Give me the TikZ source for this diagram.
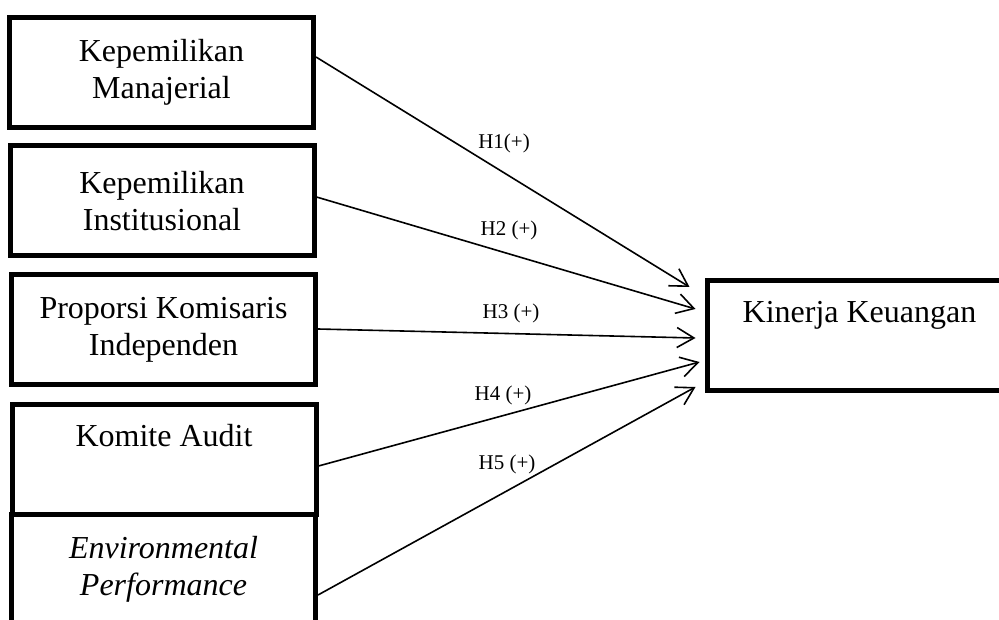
\documentclass[tikz,border=0pt]{standalone}
\usepackage{fontspec}
\setmainfont{Liberation Serif}
\usetikzlibrary{arrows.meta}
\begin{document}
\begin{tikzpicture}[x=1pt,y=1pt,
  varbox/.style={draw=black,line width=5pt,minimum width=304pt,minimum height=110pt,
    inner sep=0pt,align=center,font=\fontsize{32}{37}\selectfont},
  hyp/.style={line width=1.6pt,-{Straight Barb[length=17pt,width=20pt,line width=1.6pt]}},
  hlab/.style={font=\fontsize{21}{24}\selectfont,inner sep=0pt}]
\clip (0,0) rectangle (999,619);
\fill[white] (0,0) rectangle (999,619);
\node[varbox] (b1) at (161.5,546.5) {Kepemilikan\\Manajerial};
\node[varbox] (b2) at (162,418) {Kepemilikan\\Institusional};
\node[varbox] (b3) at (163.5,289) {Proporsi Komisaris\\Independen};
\node[varbox] (b4) at (164,159.5) {Komite Audit\\\strut};
\node[varbox] (b5) at (163.5,49.5) {\itshape Environmental\\\itshape Performance};
\node[varbox] (kin) at (859.5,283.5) {Kinerja Keuangan\\\strut};
\draw[hyp] ([yshift=15.5pt]b1.east) -- ([xshift=-15.5pt,yshift=48.5pt]kin.west);
\draw[hyp] ([yshift=4pt]b2.east) -- ([xshift=-9.5pt,yshift=26.5pt]kin.west);
\draw[hyp] ([yshift=1pt]b3.east) -- ([xshift=-9.5pt,yshift=-2.5pt]kin.west);
\draw[hyp] ([yshift=-6.5pt]b4.east) -- ([xshift=-5.5pt,yshift=-26.5pt]kin.west);
\draw[hyp] ([yshift=-25.5pt]b5.east) -- ([xshift=-9.5pt,yshift=-51.5pt]kin.west);
\node[hlab] (l1) at (504,476) {H1(+)};
\node[hlab] (l2) at (509,389) {H2 (+)};
\node[hlab] (l3) at (511,306) {H3 (+)};
\node[hlab] (l4) at (503,224) {H4 (+)};
\node[hlab] (l5) at (507,155) {H5 (+)};
\end{tikzpicture}
\end{document}
